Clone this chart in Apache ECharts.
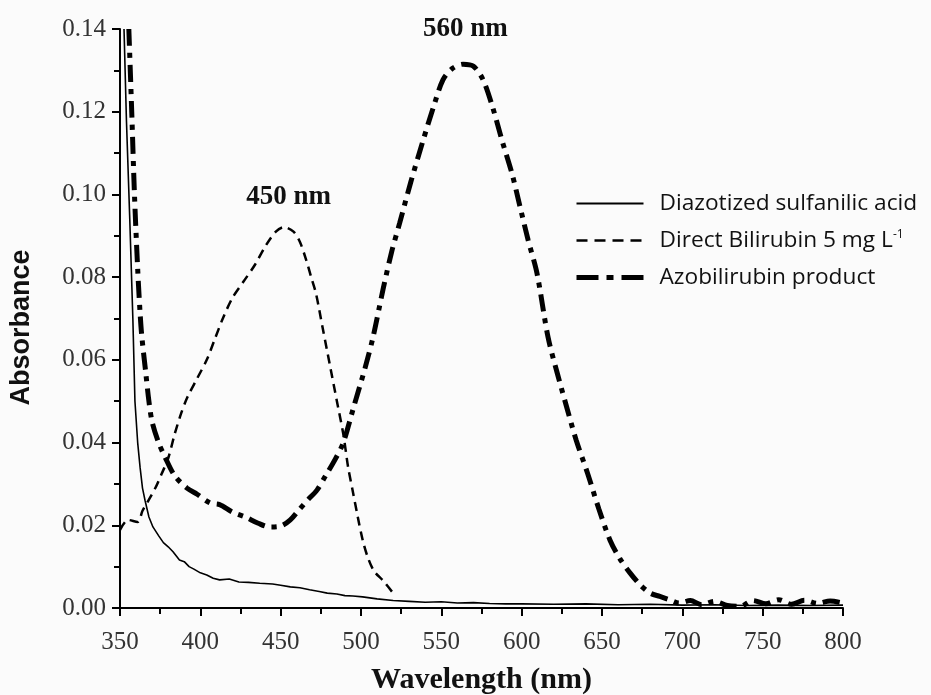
<!DOCTYPE html>
<html>
<head>
<meta charset="utf-8">
<script src="https://cdn.jsdelivr.net/npm/echarts@6/dist/echarts.min.js"></script>
<style>
html,body{margin:0;padding:0;background:#fbfbfb;}
#c{width:931px;height:695px;}
</style>
</head>
<body>
<div id="c"></div>
<script>
// ---- data ----
var xTicks = [350, 400, 450, 500, 550, 600, 650, 700, 750, 800];
var yTicks = [0.00, 0.02, 0.04, 0.06, 0.08, 0.10, 0.12, 0.14];

var sulfanilicWl = [352.5, 354, 356, 358, 359.3, 361, 362.5, 364, 365.6, 368, 370.5, 374, 377, 380, 383, 387, 390, 393, 396, 400, 404, 408, 412, 418, 424, 430, 437, 445, 450, 456, 462, 468, 474, 479, 485, 490, 495, 501, 510, 520, 530, 540, 550, 560, 570, 580, 590, 600, 620, 640, 660, 680, 700, 720, 740, 760, 780, 800];
var sulfanilicAbs = [0.140, 0.118, 0.095, 0.070, 0.050, 0.040, 0.034, 0.029, 0.026, 0.022, 0.0196, 0.0175, 0.0158, 0.0148, 0.0136, 0.0116, 0.0112, 0.0100, 0.0094, 0.0085, 0.0080, 0.0072, 0.0068, 0.0070, 0.0063, 0.0062, 0.0060, 0.0058, 0.0055, 0.0051, 0.0049, 0.0044, 0.0040, 0.0036, 0.0034, 0.0030, 0.0029, 0.0027, 0.0022, 0.0018, 0.0016, 0.0014, 0.0015, 0.0012, 0.0013, 0.0011, 0.0010, 0.0010, 0.0009, 0.0010, 0.0008, 0.0009, 0.0007, 0.0008, 0.0006, 0.0007, 0.0006, 0.0007];

var bilirubinWl = [350, 355, 361, 364, 368, 372, 376, 380, 384, 388, 392, 398, 404, 409, 414, 420, 427, 434, 441, 447, 452, 458, 462, 466, 469, 472, 476, 481, 485, 489, 492, 495, 498, 501, 504, 508, 514, 521];
var bilirubinAbs = [0.0189, 0.0213, 0.0208, 0.0235, 0.0262, 0.0290, 0.0325, 0.0362, 0.0420, 0.0470, 0.0510, 0.0555, 0.0600, 0.0650, 0.0700, 0.0750, 0.0790, 0.0830, 0.0878, 0.0910, 0.0921, 0.0910, 0.0885, 0.0840, 0.0800, 0.0760, 0.0680, 0.0580, 0.0500, 0.0420, 0.0340, 0.0280, 0.0220, 0.0165, 0.0125, 0.0090, 0.0065, 0.0031];

var azoWl = [355.5, 357.3, 359, 361, 362.4, 363.5, 366, 368, 370, 374, 378, 384, 391.7, 398, 406, 412, 420, 428, 436, 443, 450, 456, 462, 467, 472.6, 478, 484, 489, 495, 502.5, 507.5, 513.7, 519, 524, 531, 538.6, 545, 551, 557, 563.5, 570, 576, 582, 587.8, 594, 599, 604, 609.5, 616.4, 622, 628, 634, 641, 648, 655, 661, 667.4, 674, 680, 686, 692, 698, 705, 712, 720, 728, 736, 744, 752, 760, 768, 776, 784, 792, 800];
var azoAbs = [0.140, 0.120, 0.100, 0.082, 0.072, 0.066, 0.057, 0.050, 0.045, 0.040, 0.0365, 0.032, 0.0290, 0.0275, 0.0254, 0.0250, 0.0232, 0.0220, 0.0205, 0.0196, 0.0198, 0.0213, 0.0240, 0.0262, 0.0285, 0.0320, 0.0360, 0.0400, 0.0480, 0.0580, 0.0655, 0.0770, 0.0860, 0.0930, 0.1030, 0.1130, 0.1210, 0.1277, 0.1305, 0.1315, 0.1310, 0.1277, 0.1210, 0.1130, 0.1050, 0.0970, 0.0890, 0.0810, 0.0655, 0.0570, 0.0486, 0.0405, 0.0326, 0.0240, 0.0164, 0.0120, 0.0085, 0.0055, 0.0036, 0.0028, 0.0020, 0.0012, 0.0018, 0.0008, 0.0016, 0.0006, 0.0004, 0.0018, 0.0010, 0.0020, 0.0009, 0.0019, 0.0011, 0.0017, 0.0012];

var seriesNames = ['Diazotized sulfanilic acid', 'Direct Bilirubin 5 mg L', 'Azobilirubin product'];
var peakLabels = ['450 nm', '560 nm'];

function pairs(xs, ys) { return xs.map(function (x, i) { return [x, ys[i]]; }); }

var chart = echarts.init(document.getElementById('c'), null, { renderer: 'canvas' });
var serif = '"Liberation Serif", "Times New Roman", serif';
var sans = '"Open Sans", "Liberation Sans", sans-serif';

var styles = [
  { color: '#000', width: 1.6, type: 'solid' },
  { color: '#000', width: 2.5, type: [9, 6] },
  { color: '#000', width: 5, type: [17, 7, 5, 7] }
];
var legendStyles = [
  { color: '#000', width: 1.8, type: 'solid' },
  { color: '#000', width: 2.5, type: [11, 7] },
  { color: '#000', width: 5, type: [22, 8, 7, 8] }
];

chart.setOption({
  backgroundColor: '#fbfbfb',
  animation: false,
  grid: { left: 120, right: 88, top: 29, bottom: 87, containLabel: false, outerBoundsMode: 'none' },
  xAxis: {
    type: 'value', min: xTicks[0], max: xTicks[xTicks.length - 1], interval: 50,
    name: 'Wavelength (nm)', nameLocation: 'middle', nameGap: 57,
    nameTextStyle: { fontFamily: serif, fontWeight: 'bold', fontSize: 30, color: '#111' },
    axisLine: { lineStyle: { color: '#000', width: 2 } },
    axisTick: { inside: false, length: 8, lineStyle: { color: '#000', width: 2 } },
    minorTick: { show: true, splitNumber: 2, length: 6, lineStyle: { color: '#000', width: 2 } },
    axisLabel: { fontFamily: serif, fontSize: 25, color: '#333', margin: 22 },
    splitLine: { show: false }
  },
  yAxis: {
    type: 'value', min: yTicks[0], max: yTicks[yTicks.length - 1], interval: 0.02,
    name: 'Absorbance', nameLocation: 'middle', nameGap: 85, nameRotate: 90,
    nameTextStyle: { fontFamily: '"Liberation Sans", Arial, sans-serif', fontWeight: 'bold', fontSize: 27, color: '#111', padding: [0, 18, 0, 0] },
    axisLine: { show: true, lineStyle: { color: '#000', width: 2 } },
    axisTick: { show: true, inside: false, length: 8, lineStyle: { color: '#000', width: 2 } },
    minorTick: { show: true, splitNumber: 2, length: 6, lineStyle: { color: '#000', width: 2 } },
    axisLabel: { fontFamily: serif, fontSize: 25, color: '#333', margin: 14,
      formatter: function (v) { return v.toFixed(2); } },
    splitLine: { show: false }
  },
  legend: {
    orient: 'vertical', left: 574, top: 192, padding: 0, itemWidth: 67, itemHeight: 14, itemGap: 14,
    itemStyle: { opacity: 0, borderWidth: 0 },
    data: seriesNames.map(function (n, i) { return { name: n, lineStyle: legendStyles[i] }; }),
    textStyle: { fontFamily: sans, fontSize: 22.7, color: '#111', padding: [0, 0, 0, 11],
      rich: { s: { fontFamily: sans, fontSize: 12, verticalAlign: 'top', padding: [0, 0, 10, 0], color: '#111' } } },
    formatter: function (n) { return n === seriesNames[1] ? n + '{s|-1}' : n; }
  },
  series: [
    {
      name: seriesNames[0], type: 'line', data: pairs(sulfanilicWl, sulfanilicAbs),
      symbol: 'none', clip: true, lineStyle: styles[0], itemStyle: { color: '#000' }
    },
    {
      name: seriesNames[1], type: 'line', data: pairs(bilirubinWl, bilirubinAbs),
      symbol: 'none', smooth: 0.3, clip: true, lineStyle: styles[1], itemStyle: { color: '#000' },
      markPoint: { symbol: 'circle', symbolSize: 0, silent: true,
        label: { show: true, formatter: peakLabels[0], fontFamily: serif, fontWeight: 'bold', fontSize: 27, color: '#111' },
        data: [{ coord: [455, 0.0993] }] }
    },
    {
      name: seriesNames[2], type: 'line', data: pairs(azoWl, azoAbs),
      symbol: 'none', smooth: 0.3, clip: true, lineStyle: styles[2], itemStyle: { color: '#000' },
      markPoint: { symbol: 'circle', symbolSize: 0, silent: true,
        label: { show: true, formatter: peakLabels[1], fontFamily: serif, fontWeight: 'bold', fontSize: 27, color: '#111' },
        data: [{ coord: [565, 0.1400] }] }
    }
  ]
});
</script>
</body>
</html>
